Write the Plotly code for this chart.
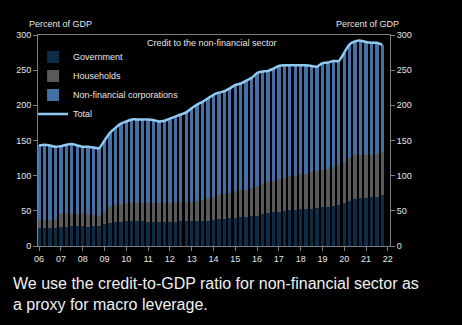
import plotly.graph_objects as go

# Quarterly data, 2006Q1 .. 2021Q4 (percent of GDP)
quarters = [2006 + 0.25 * i for i in range(64)]

government = [26, 26, 26, 26, 27, 27, 28, 28, 28, 27, 28, 29, 31, 33, 34, 34,
              35, 35, 35, 35, 34, 34, 34, 34, 34, 34, 35, 35, 35, 35, 36, 36,
              37, 38, 39, 40, 40, 41, 41, 42, 43, 45, 47, 48, 49, 50, 51, 51,
              52, 52, 53, 54, 55, 56, 57, 58, 61, 64, 67, 68, 68, 69, 70, 72]

households = [11, 11, 11, 12, 18, 19, 18, 18, 19, 19, 16, 13, 19, 23, 25, 26,
              26, 26, 26, 26, 27, 27, 27, 27, 27, 28, 27, 28, 28, 29, 30, 32,
              33, 34, 35, 36, 38, 38, 39, 40, 42, 43, 44, 45, 46, 47, 48, 49,
              50, 51, 52, 52, 53, 54, 55, 57, 59, 61, 62, 62, 62, 61, 61, 61]

nonfin_corp = [106, 107, 106, 103, 97, 98, 99, 97, 94, 95, 96, 97, 100, 105, 109, 114,
               116, 119, 119, 119, 119, 118, 116, 117, 120, 122, 125, 127, 133, 137, 139, 142,
               145, 146, 146, 148, 151, 152, 155, 157, 161, 160, 158, 159, 161, 160, 158, 157,
               155, 154, 151, 149, 152, 151, 151, 148, 155, 162, 162, 162, 160, 159, 158, 153]

total = [143, 144, 143, 141, 142, 144, 145, 143, 141, 141, 140, 139, 150, 161, 168, 174,
         177, 180, 180, 180, 180, 179, 177, 178, 181, 184, 187, 190, 196, 201, 205, 210,
         215, 218, 220, 224, 229, 231, 235, 239, 246, 248, 249, 252, 256, 257, 257, 257,
         257, 257, 256, 255, 260, 261, 263, 263, 275, 287, 291, 292, 290, 289, 289, 286]

year_ticks = list(range(2006, 2023))
year_labels = ["%02d" % (y % 100) for y in year_ticks]
y_ticks = [0, 50, 100, 150, 200, 250, 300]

FONT = "Liberation Sans, Arial, sans-serif"
TXT = "#e6e6e6"
AX = "#7f7f7f"

fig = go.Figure()
fig.add_trace(go.Bar(x=quarters, y=government, name="Government",
                     marker=dict(color="#0c2c48", line=dict(width=0))))
fig.add_trace(go.Bar(x=quarters, y=households, name="Households",
                     marker=dict(color="#5a5a5a", line=dict(width=0))))
fig.add_trace(go.Bar(x=quarters, y=nonfin_corp, name="Non-financial corporations",
                     marker=dict(color="#4570a6", line=dict(width=0))))
fig.add_trace(go.Scatter(x=quarters, y=total, name="Total", mode="lines",
                         line=dict(color="#8fcaf2", width=2.5, shape="spline", smoothing=0.5),
                         yaxis="y2"))

fig.update_layout(
    width=462, height=325,
    margin=dict(l=38, r=72, t=35, b=79),
    paper_bgcolor="#000000", plot_bgcolor="#000000",
    barmode="stack", bargap=0.38,
    font=dict(family=FONT, size=9, color=TXT),
    showlegend=True,
    legend=dict(x=-0.014, y=0.965, xanchor="left", yanchor="top",
                traceorder="normal",
                bgcolor="rgba(0,0,0,0)", font=dict(size=9, color=TXT),
                tracegroupgap=0, itemwidth=30),
    xaxis=dict(range=[2005.95, 2022.1], tickvals=year_ticks, ticktext=year_labels,
               showgrid=False, zeroline=False, showline=True, linecolor=AX, linewidth=1,
               mirror=True, ticks="outside", ticklen=4, tickcolor=AX,
               tickfont=dict(size=9, color=TXT)),
    yaxis=dict(range=[0, 300], tickvals=y_ticks, showgrid=False, zeroline=False,
               showline=True, linecolor=AX, linewidth=1, ticks="outside", ticklen=4,
               tickcolor=AX, tickfont=dict(size=9, color=TXT)),
    yaxis2=dict(range=[0, 300], tickvals=y_ticks, overlaying="y", side="right",
                showgrid=False, zeroline=False, showline=True, linecolor=AX, linewidth=1,
                ticks="outside", ticklen=4, tickcolor=AX, tickfont=dict(size=9, color=TXT)),
    annotations=[
        dict(text="Percent of GDP", xref="paper", yref="paper", x=0.0625, y=1.05,
             showarrow=False, xanchor="center", yanchor="middle",
             font=dict(size=9, color=TXT)),
        dict(text="Percent of GDP", xref="paper", yref="paper", x=0.935, y=1.05,
             showarrow=False, xanchor="center", yanchor="middle",
             font=dict(size=9, color=TXT)),
        dict(text="Credit to the non-financial sector", xref="paper", yref="paper",
             x=0.494, y=0.96, showarrow=False, xanchor="center", yanchor="middle",
             font=dict(size=9, color=TXT)),
        dict(text="We use the credit-to-GDP ratio for non-financial sector as<br>a proxy for macro leverage.",
             xref="paper", yref="paper", x=-0.077, y=-0.13, showarrow=False,
             xanchor="left", yanchor="top", align="left",
             font=dict(family="Liberation Sans Narrow, Arial Narrow, sans-serif",
                       size=16, color="#f0f0f0")),
    ],
)

fig.write_html("out.html")
